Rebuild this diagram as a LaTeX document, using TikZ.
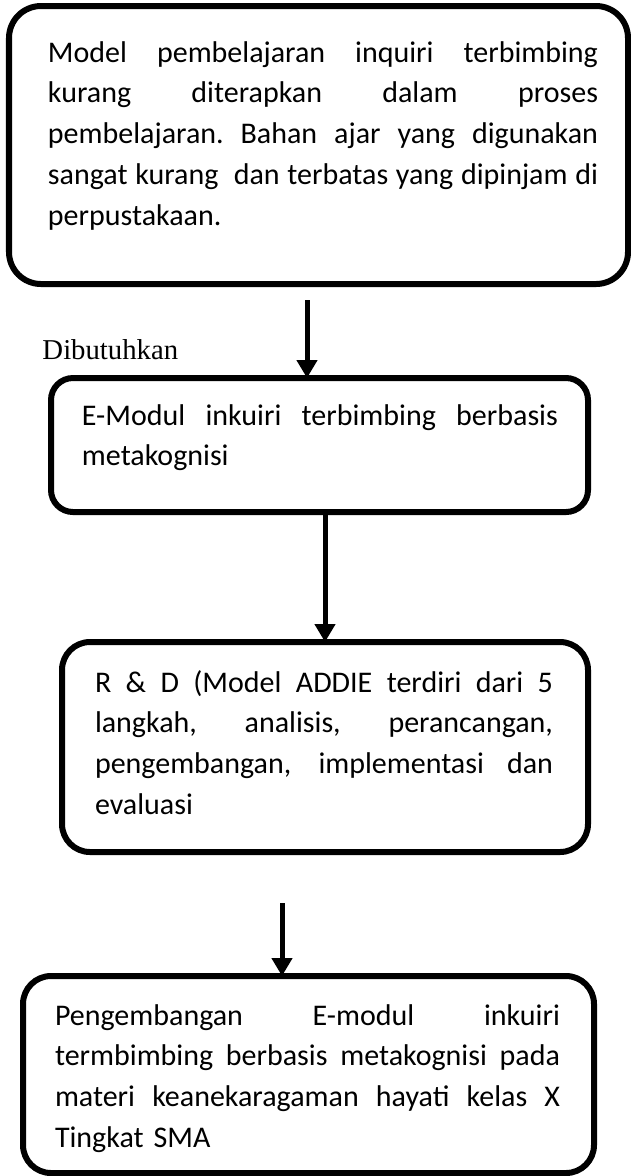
\documentclass[tikz,border=0pt]{standalone}
\usepackage{fontspec}
\setmainfont{Carlito}
\newfontfamily\timesf{Liberation Serif}
\usetikzlibrary{arrows.meta}
\newcommand{\jw}{200pt}
\newcommand{\jline}[1]{\hbox to \jw{\spaceskip=2.71pt plus 1fil\relax\xspaceskip=2.71pt plus 1fil\relax #1}}
\newcommand{\lline}[1]{\hbox{#1}}
\tikzset{
  box/.style={draw, line width=2.4pt, inner sep=0pt, outer sep=0pt, anchor=north west},
  txt/.style={anchor=base west, inner sep=0pt, outer sep=0pt,
    font=\fontsize{12}{16.3}\selectfont},
  arr/.style={line width=2pt, -{Triangle[width=8pt,length=7.2pt]}}
}
\begin{document}
\begin{tikzpicture}[x=0.4pt,y=-0.4pt]
\useasboundingbox (0,0) rectangle (631,1176);
% boxes
\node[box, rounded corners=12.8pt, minimum width=247.6pt, minimum height=111.2pt] (b1) at (9,6) {};
\node[box, rounded corners=8.8pt, minimum width=214.8pt, minimum height=53.6pt] (b2) at (51,378) {};
\node[box, rounded corners=11.2pt, minimum width=210.4pt, minimum height=84pt] (b3) at (62,642) {};
\node[box, rounded corners=11.2pt, minimum width=228.4pt, minimum height=78.8pt] (b4) at (23,976) {};
% texts
\node[txt, text width=220pt] (t1) at (48,62) {\renewcommand{\jw}{220pt}%
\jline{Model pembelajaran inquiri terbimbing}
\jline{kurang diterapkan dalam proses}
\jline{pembelajaran. Bahan ajar yang digunakan}
\jline{sangat kurang\ \ dan terbatas yang dipinjam di}
\lline{perpustakaan.}};
\node[txt, text width=190.4pt] (t2) at (82,425) {\renewcommand{\jw}{190.4pt}%
\jline{E-Modul inkuiri terbimbing berbasis}
\lline{metakognisi}};
\node[txt, text width=183.2pt] (t3) at (95,692) {\renewcommand{\jw}{183.2pt}%
\jline{R \& D (Model ADDIE terdiri dari 5}
\jline{langkah, analisis, perancangan,}
\jline{pengembangan, implementasi dan}
\lline{evaluasi}};
\node[txt, text width=202pt] (t4) at (55,1025) {\renewcommand{\jw}{202pt}%
\jline{Pengembangan E-modul inkuiri}
\jline{termbimbing berbasis metakognisi pada}
\jline{materi keanekaragaman hayati kelas X}
\lline{Tingkat SMA}};
\node[anchor=base west, inner sep=0pt, font=\timesf\fontsize{11.5}{14}\selectfont] (lbl) at (42,359) {Dibutuhkan};
% connectors
\coordinate (a1s) at (307,300);
\coordinate (a2x) at (325,0);
\coordinate (a3s) at (282,903);
\draw[arr] (a1s) -- (a1s |- b2.north);
\draw[arr] (a2x |- b2.south) -- (a2x |- b3.north);
\draw[arr] (a3s) -- (a3s |- b4.north);
\end{tikzpicture}
\end{document}
